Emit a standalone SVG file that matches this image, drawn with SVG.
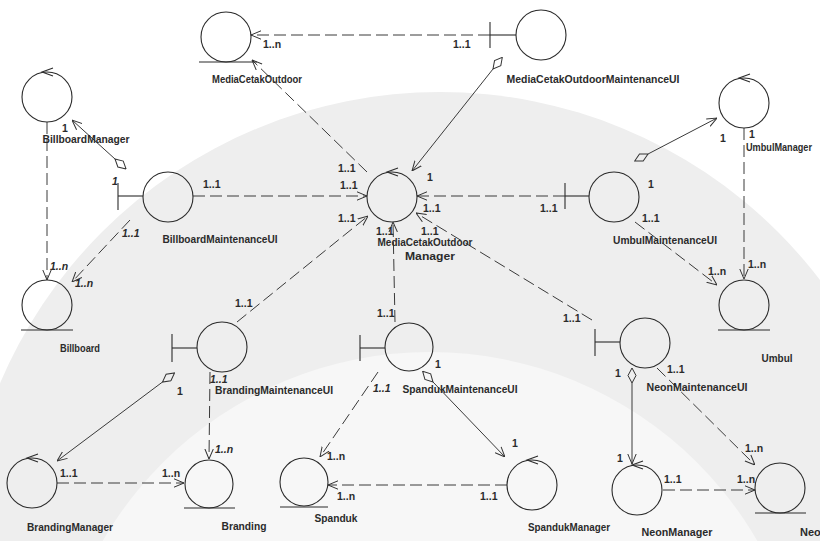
<svg xmlns="http://www.w3.org/2000/svg" width="820" height="541" viewBox="0 0 820 541">
  <style>
    .ico { fill: none; stroke: #2b2b2b; stroke-width: 1.1; }
    .lbl { font-family: "Liberation Sans", Arial, sans-serif; font-size: 11px; font-weight: bold; fill: #2b2b2b; text-anchor: middle; }
    .mul { font-family: "Liberation Sans", Arial, sans-serif; font-size: 10.5px; font-weight: bold; fill: #2b2b2b; }
    .it { font-style: italic; }
    .dep { fill: none; stroke: #3a3a3a; stroke-width: 1; stroke-dasharray: 12 5; marker-end: url(#arrow); }
    .agg { fill: none; stroke: #3a3a3a; stroke-width: 1; marker-start: url(#diamond); marker-end: url(#arrow); }
  </style>
  <defs>
    <marker id="arrow" viewBox="0 0 10 10" refX="10" refY="5" markerWidth="10" markerHeight="10" markerUnits="userSpaceOnUse" orient="auto">
      <path d="M0,0.8 L10,5 L0,9.2" fill="none" stroke="#333" stroke-width="1"/>
    </marker>
    <marker id="diamond" viewBox="0 0 16 10" refX="15.5" refY="5" markerWidth="16" markerHeight="10" markerUnits="userSpaceOnUse" orient="auto">
      <path d="M0.5,5 L8,1 L15.5,5 L8,9 Z" fill="none" stroke="#333" stroke-width="1"/>
    </marker>
  </defs>

  <rect width="820" height="541" fill="#ffffff"/>

  <!-- faint seal in the background -->
  <g id="seal">
    <circle cx="440" cy="570" r="478" fill="#eeeeee"/>
    <circle cx="430" cy="730" r="378" fill="#f7f7f7"/>
  </g>

  <!-- connectors -->
  <g id="connectors">
    <!-- MediaCetakOutdoor cluster -->
    <line class="dep" x1="490" y1="35" x2="251" y2="35"/>
    <line class="dep" x1="367" y1="172" x2="252" y2="60"/>
    <line class="agg" x1="493" y1="69" x2="412" y2="171"/>
    <line class="dep" x1="193" y1="196" x2="367" y2="196"/>
    <line class="dep" x1="565" y1="196" x2="417" y2="196"/>
    <line class="dep" x1="592" y1="320" x2="416" y2="213"/>
    <line class="dep" x1="237" y1="322" x2="368" y2="216"/>
    <line class="dep" x1="395" y1="322" x2="393" y2="222"/>

    <!-- Billboard -->
    <line class="dep" x1="47" y1="122" x2="47" y2="280"/>
    <line class="agg" x1="115" y1="159" x2="72" y2="120"/>
    <line class="dep" x1="130" y1="220" x2="72" y2="282"/>

    <!-- Umbul -->
    <line class="agg" x1="648" y1="154" x2="717" y2="118"/>
    <line class="dep" x1="744" y1="128" x2="744" y2="279"/>
    <line class="dep" x1="635" y1="222" x2="717" y2="285"/>

    <!-- Branding -->
    <line class="dep" x1="210" y1="372" x2="209" y2="459"/>
    <line class="agg" x1="162.5" y1="382" x2="57" y2="461"/>
    <line class="dep" x1="57" y1="483" x2="184" y2="483"/>

    <!-- Spanduk -->
    <line class="dep" x1="378" y1="372" x2="320" y2="457"/>
    <line class="agg" x1="433" y1="382" x2="505" y2="457"/>
    <line class="dep" x1="507" y1="485" x2="328" y2="485"/>

    <!-- Neon -->
    <line class="agg" x1="632" y1="383" x2="632" y2="464"/>
    <line class="dep" x1="657" y1="368" x2="755" y2="465"/>
    <line class="dep" x1="663" y1="490" x2="755" y2="490"/>

    <!-- multiplicities -->
    <text class="mul" x="263" y="48">1..n</text>
    <text class="mul" x="453" y="48">1..1</text>
    <text class="mul" x="338" y="172">1..1</text>
    <text class="mul" x="340" y="189">1..1</text>
    <text class="mul" x="427" y="181">1</text>
    <text class="mul" x="338" y="222">1..1</text>
    <text class="mul" x="376" y="235">1..1</text>
    <text class="mul" x="423" y="212">1..1</text>
    <text class="mul" x="421" y="235">1..1</text>
    <text class="mul" x="203" y="188">1..1</text>
    <text class="mul" x="540" y="212">1..1</text>

    <text class="mul it" x="112" y="185">1</text>
    <text class="mul" x="62" y="132">1</text>
    <text class="mul it" x="50" y="270">1..n</text>
    <text class="mul it" x="122" y="237">1..1</text>
    <text class="mul it" x="75" y="287">1..n</text>

    <text class="mul" x="720" y="142">1</text>
    <text class="mul" x="749" y="138">1</text>
    <text class="mul" x="648" y="188">1</text>
    <text class="mul" x="642" y="222">1..1</text>
    <text class="mul" x="708" y="275">1..n</text>
    <text class="mul" x="748" y="268">1..n</text>

    <text class="mul it" x="210" y="383">1..1</text>
    <text class="mul it" x="215" y="453">1..n</text>
    <text class="mul" x="177" y="395">1</text>
    <text class="mul" x="60" y="477">1..1</text>
    <text class="mul" x="162" y="477">1..n</text>
    <text class="mul" x="235" y="307">1..1</text>

    <text class="mul" x="377" y="317">1..1</text>
    <text class="mul" x="435" y="368">1</text>
    <text class="mul it" x="373" y="392">1..1</text>
    <text class="mul" x="327" y="460">1..n</text>
    <text class="mul" x="512" y="447">1</text>
    <text class="mul" x="480" y="500">1..1</text>
    <text class="mul" x="337" y="500">1..n</text>

    <text class="mul" x="563" y="322">1..1</text>
    <text class="mul" x="615" y="377">1</text>
    <text class="mul" x="667" y="373">1..1</text>
    <text class="mul" x="617" y="462">1</text>
    <text class="mul" x="745" y="452">1..n</text>
    <text class="mul" x="664" y="483">1..1</text>
    <text class="mul" x="737" y="483">1..n</text>
  </g>

  <!-- entity objects -->
  <g id="MediaCetakOutdoor">
    <circle class="ico" cx="226" cy="37" r="25"/>
    <line class="ico" x1="199" y1="62" x2="257" y2="62"/>
    <text class="lbl" x="257" y="83" textLength="90" lengthAdjust="spacingAndGlyphs">MediaCetakOutdoor</text>
  </g>
  <g id="Billboard">
    <circle class="ico" cx="47" cy="305" r="25"/>
    <line class="ico" x1="21" y1="330" x2="73" y2="330"/>
    <text class="lbl" x="80" y="352" textLength="40" lengthAdjust="spacingAndGlyphs">Billboard</text>
  </g>
  <g id="Umbul">
    <circle class="ico" cx="744" cy="305" r="25"/>
    <line class="ico" x1="718" y1="330" x2="770" y2="330"/>
    <text class="lbl" x="777" y="362" textLength="31" lengthAdjust="spacingAndGlyphs">Umbul</text>
  </g>
  <g id="Branding">
    <circle class="ico" cx="209" cy="484" r="24"/>
    <line class="ico" x1="184" y1="508" x2="235" y2="508"/>
    <text class="lbl" x="244" y="530" textLength="45" lengthAdjust="spacingAndGlyphs">Branding</text>
  </g>
  <g id="Spanduk">
    <circle class="ico" cx="304" cy="482" r="24"/>
    <line class="ico" x1="280" y1="507" x2="328" y2="507"/>
    <text class="lbl" x="336" y="522" textLength="43" lengthAdjust="spacingAndGlyphs">Spanduk</text>
  </g>
  <g id="Neon">
    <circle class="ico" cx="780" cy="488" r="25"/>
    <line class="ico" x1="755" y1="513" x2="806" y2="513"/>
    <text class="lbl" x="800" y="536" style="text-anchor:start">Neon</text>
  </g>

  <!-- boundary objects -->
  <g id="MediaCetakOutdoorMaintenanceUI">
    <circle class="ico" cx="541" cy="35" r="25"/>
    <line class="ico" x1="490" y1="35" x2="516" y2="35"/>
    <line class="ico" x1="490" y1="22" x2="490" y2="48"/>
    <text class="lbl" x="593" y="83" textLength="173" lengthAdjust="spacingAndGlyphs">MediaCetakOutdoorMaintenanceUI</text>
  </g>
  <g id="BillboardMaintenanceUI">
    <circle class="ico" cx="168" cy="197" r="25"/>
    <line class="ico" x1="118" y1="196" x2="143" y2="196"/>
    <line class="ico" x1="118" y1="183" x2="118" y2="210"/>
    <text class="lbl" x="220" y="243" textLength="115" lengthAdjust="spacingAndGlyphs">BillboardMaintenanceUI</text>
  </g>
  <g id="UmbulMaintenanceUI">
    <circle class="ico" cx="614" cy="197" r="25"/>
    <line class="ico" x1="565" y1="196" x2="589" y2="196"/>
    <line class="ico" x1="565" y1="183" x2="565" y2="209"/>
    <text class="lbl" x="665" y="244" textLength="104" lengthAdjust="spacingAndGlyphs">UmbulMaintenanceUI</text>
  </g>
  <g id="BrandingMaintenanceUI">
    <circle class="ico" cx="222" cy="347" r="25"/>
    <line class="ico" x1="172" y1="348" x2="197" y2="348"/>
    <line class="ico" x1="172" y1="334" x2="172" y2="362"/>
    <text class="lbl" x="274" y="394" textLength="118" lengthAdjust="spacingAndGlyphs">BrandingMaintenanceUI</text>
  </g>
  <g id="SpandukMaintenanceUI">
    <circle class="ico" cx="409" cy="347" r="24"/>
    <line class="ico" x1="360" y1="348" x2="385" y2="348"/>
    <line class="ico" x1="360" y1="335" x2="360" y2="361"/>
    <text class="lbl" x="460" y="393" textLength="115" lengthAdjust="spacingAndGlyphs">SpandukMaintenanceUI</text>
  </g>
  <g id="NeonMaintenanceUI">
    <circle class="ico" cx="645" cy="343" r="25"/>
    <line class="ico" x1="595" y1="342" x2="620" y2="342"/>
    <line class="ico" x1="595" y1="329" x2="595" y2="356"/>
    <text class="lbl" x="697" y="391" textLength="101" lengthAdjust="spacingAndGlyphs">NeonMaintenanceUI</text>
  </g>

  <!-- control objects -->
  <g id="MediaCetakOutdoorManager">
    <circle class="ico" cx="392" cy="197" r="25"/>
    <path class="ico" d="M398,168 L387,172 L398,176"/>
    <text class="lbl" x="425" y="246" textLength="95" lengthAdjust="spacingAndGlyphs">MediaCetakOutdoor</text>
    <text class="lbl" x="430" y="260" textLength="50" lengthAdjust="spacingAndGlyphs">Manager</text>
  </g>
  <g id="BillboardManager">
    <circle class="ico" cx="47" cy="97" r="25"/>
    <path class="ico" d="M53,68 L42,72 L53,76"/>
    <text class="lbl" x="86" y="143" textLength="87" lengthAdjust="spacingAndGlyphs">BillboardManager</text>
  </g>
  <g id="UmbulManager">
    <circle class="ico" cx="744" cy="103" r="25"/>
    <path class="ico" d="M750,74 L739,78 L750,82"/>
    <text class="lbl" x="779" y="151" style="font-size:10px" textLength="66" lengthAdjust="spacingAndGlyphs">UmbulManager</text>
  </g>
  <g id="BrandingManager">
    <circle class="ico" cx="32" cy="483" r="25"/>
    <path class="ico" d="M38,454 L27,458 L38,462"/>
    <text class="lbl" x="70" y="531" textLength="86" lengthAdjust="spacingAndGlyphs">BrandingManager</text>
  </g>
  <g id="SpandukManager">
    <circle class="ico" cx="532" cy="485" r="25"/>
    <path class="ico" d="M538,456 L527,460 L538,464"/>
    <text class="lbl" x="569" y="531" textLength="82" lengthAdjust="spacingAndGlyphs">SpandukManager</text>
  </g>
  <g id="NeonManager">
    <circle class="ico" cx="637" cy="490" r="25"/>
    <path class="ico" d="M643,461 L632,465 L643,469"/>
    <text class="lbl" x="677" y="536" textLength="71" lengthAdjust="spacingAndGlyphs">NeonManager</text>
  </g>
</svg>
